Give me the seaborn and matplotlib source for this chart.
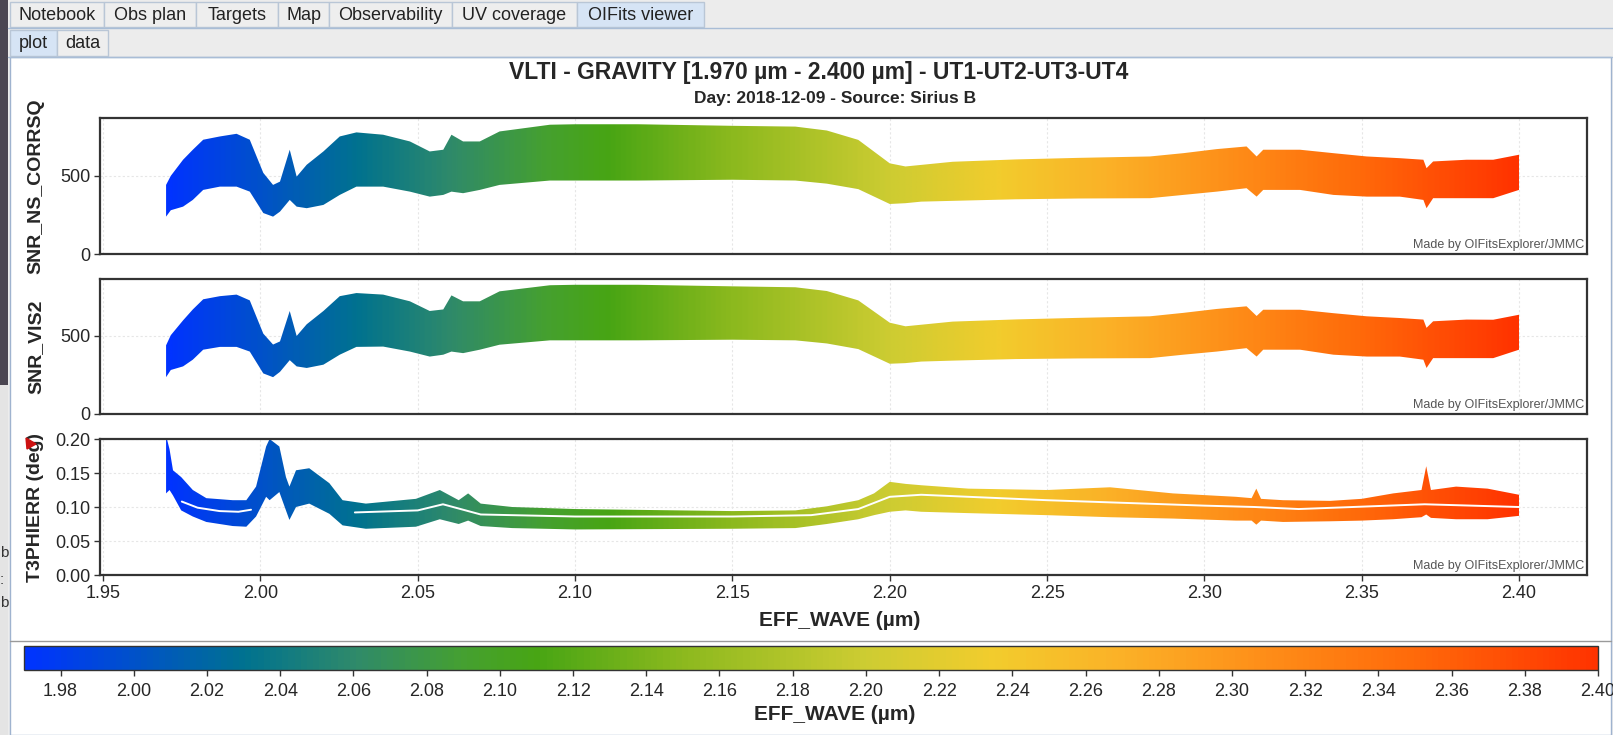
import numpy as np
import pandas as pd
import matplotlib.pyplot as plt
import seaborn as sns
from matplotlib.colors import LinearSegmentedColormap, Normalize
from matplotlib.patches import Rectangle, Polygon
from matplotlib.lines import Line2D
from matplotlib.cm import ScalarMappable

W, H = 1613, 735

# --- values ---
snr_wave = [1.970, 1.9715, 1.9754, 1.9785, 1.9818, 1.9871, 1.9924, 1.9966, 2.0009, 2.0040,
            2.0062, 2.0093, 2.0115, 2.0147, 2.0200, 2.0252, 2.0305, 2.0390, 2.0475, 2.0538,
            2.0581, 2.0607, 2.0644, 2.0697, 2.0760, 2.0920, 2.1000, 2.1200, 2.1500, 2.1700,
            2.1800, 2.1900, 2.2000, 2.2050, 2.2100, 2.2200, 2.2400, 2.2600, 2.2827, 2.2933,
            2.3039, 2.3134, 2.3166, 2.3187, 2.3304, 2.3410, 2.3516, 2.3621, 2.3696, 2.3706,
            2.3727, 2.3833, 2.3918, 2.4000]
corrsq_hi = [442, 500, 603, 667, 731, 752, 769, 731, 519, 442,
             463, 667, 495, 571, 656, 752, 778, 763, 720, 656,
             667, 763, 720, 720, 784, 827, 830, 830, 820, 815,
             790, 730, 580, 560, 570, 590, 605, 615, 624, 645,
             671, 688, 624, 667, 667, 645, 624, 613, 603, 549,
             592, 603, 603, 635]
corrsq_lo = [239, 280, 303, 346, 410, 431, 431, 399, 262, 239,
             271, 346, 303, 293, 314, 378, 431, 431, 399, 367,
             378, 399, 389, 410, 442, 470, 470, 470, 475, 470,
             450, 415, 320, 325, 335, 340, 350, 355, 357, 378,
             399, 421, 367, 410, 410, 378, 367, 367, 346, 293,
             357, 357, 357, 410]
vis2_hi = [440, 505, 600, 670, 735, 755, 765, 728, 515, 445,
           465, 660, 500, 575, 660, 755, 775, 765, 722, 660,
           670, 760, 722, 722, 786, 825, 828, 828, 818, 812,
           788, 728, 585, 562, 572, 592, 606, 616, 626, 648,
           673, 690, 628, 668, 668, 646, 626, 615, 605, 552,
           594, 605, 604, 636]
vis2_lo = [236, 282, 305, 348, 412, 430, 430, 400, 260, 236,
           270, 345, 305, 295, 316, 380, 430, 432, 400, 368,
           380, 400, 390, 412, 444, 472, 472, 472, 476, 472,
           452, 416, 322, 326, 336, 342, 352, 356, 358, 380,
           400, 422, 368, 412, 412, 380, 368, 368, 348, 295,
           358, 358, 358, 412]

t3_wave = [1.970, 1.9711, 1.9722, 1.9748, 1.9785, 1.9828, 1.9912, 1.9955, 1.9986, 2.0018,
           2.0029, 2.0060, 2.0081, 2.0092, 2.0113, 2.0155, 2.0219, 2.0261, 2.0335, 2.0494,
           2.0570, 2.0630, 2.0660, 2.0700, 2.0800, 2.1000, 2.1500, 2.1700, 2.1800, 2.1900,
           2.1950, 2.2000, 2.2050, 2.2100, 2.2250, 2.2500, 2.2700, 2.2900, 2.3100, 2.3150,
           2.3165, 2.3180, 2.3250, 2.3400, 2.3500, 2.3600, 2.3690, 2.3705, 2.3720, 2.3800,
           2.3900, 2.4000]
t3_hi = [0.205, 0.185, 0.154, 0.144, 0.125, 0.113, 0.110, 0.110, 0.130, 0.189,
         0.200, 0.189, 0.144, 0.130, 0.154, 0.157, 0.135, 0.110, 0.105, 0.112,
         0.125, 0.110, 0.120, 0.105, 0.100, 0.097, 0.094, 0.095, 0.101, 0.110,
         0.120, 0.137, 0.134, 0.132, 0.127, 0.125, 0.129, 0.120, 0.115, 0.113,
         0.127, 0.112, 0.110, 0.109, 0.112, 0.120, 0.125, 0.160, 0.125, 0.130,
         0.127, 0.118]
t3_lo = [0.120, 0.125, 0.117, 0.095, 0.086, 0.078, 0.072, 0.071, 0.086, 0.115,
         0.110, 0.122, 0.095, 0.081, 0.100, 0.105, 0.090, 0.073, 0.068, 0.071,
         0.082, 0.075, 0.080, 0.072, 0.069, 0.067, 0.068, 0.069, 0.075, 0.082,
         0.088, 0.093, 0.095, 0.093, 0.091, 0.088, 0.085, 0.083, 0.080, 0.080,
         0.074, 0.080, 0.078, 0.079, 0.080, 0.082, 0.085, 0.089, 0.084, 0.082,
         0.082, 0.087]
# white gaps inside the T3PHIERR band
gap1_wave = [1.975, 1.980, 1.987, 1.993, 1.997]
gap1_val = [0.108, 0.099, 0.094, 0.093, 0.096]
gap2_wave = [2.030, 2.050, 2.058, 2.070, 2.100, 2.150, 2.175, 2.190, 2.200, 2.210,
             2.250, 2.300, 2.316, 2.330, 2.370, 2.400]
gap2_val = [0.092, 0.095, 0.104, 0.089, 0.086, 0.086, 0.088, 0.097, 0.115, 0.118,
            0.110, 0.102, 0.100, 0.097, 0.104, 0.100]

cmap_waves = [1.970, 2.000, 2.030, 2.060, 2.090, 2.110, 2.150, 2.200, 2.235, 2.270, 2.310, 2.350, 2.400]
cmap_colors = ['#0033ff', '#0052c8', '#00728f', '#2f8a6a', '#45a030', '#48a514', '#8cb91e',
               '#cdcc32', '#f2cc2d', '#fbb127', '#fe8d18', '#ff6a0a', '#ff3300']

x_ticks = [1.95, 2.00, 2.05, 2.10, 2.15, 2.20, 2.25, 2.30, 2.35, 2.40]
cbar_ticks = [1.98, 2.00, 2.02, 2.04, 2.06, 2.08, 2.10, 2.12, 2.14, 2.16, 2.18, 2.20, 2.22,
              2.24, 2.26, 2.28, 2.30, 2.32, 2.34, 2.36, 2.38, 2.40]

tabs = ['Notebook', 'Obs plan', 'Targets', 'Map', 'Observability', 'UV coverage', 'OIFits viewer']
tab_edges = [10, 104, 196, 278, 329, 452, 577, 704]
subtabs = ['plot', 'data']
subtab_edges = [10, 57, 108]

title = 'VLTI - GRAVITY [1.970 µm - 2.400 µm] - UT1-UT2-UT3-UT4'
subtitle = 'Day: 2018-12-09 - Source: Sirius B'

sns.set_theme(style='white')
plt.rcParams['font.family'] = ['Liberation Sans', 'DejaVu Sans']

lo_w, hi_w = cmap_waves[0], cmap_waves[-1]
pos = [(w - lo_w) / (hi_w - lo_w) for w in cmap_waves]
cmap = LinearSegmentedColormap.from_list('effwave', list(zip(pos, cmap_colors)))
norm = Normalize(vmin=lo_w, vmax=hi_w)

fig = plt.figure(figsize=(W / 100, H / 100), dpi=100, facecolor='#ececec')


def fx(x):
    return x / W


def fy(y):
    return 1 - y / H


def rect(x0, y0, x1, y1, **kw):
    kw.setdefault('zorder', -10)
    fig.add_artist(Rectangle((fx(x0), fy(y1)), (x1 - x0) / W, (y1 - y0) / H,
                             transform=fig.transFigure, **kw))


def hline(x0, x1, y, **kw):
    fig.add_artist(Line2D([fx(x0), fx(x1)], [fy(y), fy(y)], transform=fig.transFigure, zorder=-5, **kw))


# window chrome
rect(0, 0, 8, 385, facecolor='#4b4652', edgecolor='none')
rect(0, 385, 8, 735, facecolor='#e4e4e4', edgecolor='none')
rect(10, 57, 1611, 735, facecolor='white', edgecolor='#9fb3cf', lw=1)
for i, t in enumerate(tabs):
    sel = t == 'OIFits viewer'
    rect(tab_edges[i], 2, tab_edges[i + 1], 27, facecolor='#d6e4f5' if sel else '#eeeeee',
         edgecolor='#b9c6d6', lw=1)
    fig.text(fx((tab_edges[i] + tab_edges[i + 1]) / 2), fy(15), t, ha='center', va='center',
             fontsize=13, color='#222222')
for i, t in enumerate(subtabs):
    sel = t == 'plot'
    rect(subtab_edges[i], 30, subtab_edges[i + 1], 56, facecolor='#d6e4f5' if sel else '#eeeeee',
         edgecolor='#b9c6d6', lw=1)
    fig.text(fx((subtab_edges[i] + subtab_edges[i + 1]) / 2), fy(43), t, ha='center', va='center',
             fontsize=13, color='#222222')
hline(8, 1613, 27.5, color='#a9bdd6', lw=1)
hline(8, 1613, 57, color='#a9bdd6', lw=1)
hline(10, 1611, 641, color='#9a9a9a', lw=1)
for yy, ch in [(553, 'b'), (580, ':'), (603, 'b')]:
    fig.text(fx(0), fy(yy), ch, ha='left', va='center', fontsize=11, color='#333333')

# titles
fig.text(fx(819), fy(73), title, ha='center', va='center', fontsize=16.5, fontweight='bold')
fig.text(fx(835), fy(99), subtitle, ha='center', va='center', fontsize=12.5, fontweight='bold')

panels = [
    ('SNR_NS_CORRSQ', snr_wave, corrsq_lo, corrsq_hi, (118, 254), 870, [0, 500]),
    ('SNR_VIS2', snr_wave, vis2_lo, vis2_hi, (279, 414), 865, [0, 500]),
    ('T3PHIERR (deg)', t3_wave, t3_lo, t3_hi, (439, 575), 0.20, [0.00, 0.05, 0.10, 0.15, 0.20]),
]

grad = np.linspace(lo_w, hi_w, 800).reshape(1, -1)
axes = []
for name, wave, lo, hi, (top, bot), ymax, yt in panels:
    ax = fig.add_axes([fx(100), fy(bot), (1587 - 100) / W, (bot - top) / H])
    axes.append(ax)
    poly = ax.fill_between(wave, lo, hi, facecolor='none', edgecolor='none')
    im = ax.imshow(grad, cmap=cmap, norm=norm, extent=(lo_w, hi_w, 0, ymax * 1.2), aspect='auto',
                   interpolation='bilinear', origin='lower', zorder=2)
    im.set_clip_path(poly.get_paths()[0], transform=ax.transData)
    ax.set_xlim(1.949, 2.4216)
    ax.set_ylim(0, ymax)
    ax.set_xticks(x_ticks)
    ax.set_yticks(yt)
    ax.grid(True, color='#e6e6e6', lw=0.8, ls=(0, (2, 2)))
    ax.set_axisbelow(True)
    for s in ax.spines.values():
        s.set_color('#333333')
        s.set_linewidth(1.6)
    ax.tick_params(axis='both', direction='out', length=4, width=1, color='#333333',
                   labelsize=13, pad=3, left=True, bottom=True)
    ax.set_ylabel(name, fontsize=14, fontweight='bold')
    ax.yaxis.set_label_coords((44 - 100) / (1587 - 100), 0.5)
    ax.text(0.998, 0.025, 'Made by OIFitsExplorer/JMMC', transform=ax.transAxes, ha='right',
            va='bottom', fontsize=9, color='#555555')

axes[0].tick_params(axis='x', labelbottom=False, length=0)
axes[1].tick_params(axis='x', labelbottom=False, length=0)
axes[2].yaxis.set_major_formatter(plt.FormatStrFormatter('%.2f'))
axes[2].xaxis.set_major_formatter(plt.FormatStrFormatter('%.2f'))

for gw, gv in [(gap1_wave, gap1_val), (gap2_wave, gap2_val)]:
    sns.lineplot(x=gw, y=gv, ax=axes[2], color='white', lw=1.4, zorder=3)

fig.text(fx(840), fy(621), 'EFF_WAVE (µm)', ha='center', va='center', fontsize=15, fontweight='bold')

# little red marker next to the T3PHIERR axis
fig.add_artist(Polygon([[fx(26), fy(438)], [fx(36), fy(444)], [fx(27), fy(449)]],
                       closed=True, transform=fig.transFigure, color='#cc1111', zorder=5))

# colour bar
cax = fig.add_axes([fx(24), fy(670), (1598 - 24) / W, 24 / H])
cb = fig.colorbar(ScalarMappable(norm=norm, cmap=cmap), cax=cax, orientation='horizontal', ticks=cbar_ticks)
cb.ax.xaxis.set_major_formatter(plt.FormatStrFormatter('%.2f'))
cb.ax.tick_params(direction='out', length=4, width=1, color='#333333', labelsize=13, pad=5, bottom=True)
cb.outline.set_edgecolor('#333333')
cb.outline.set_linewidth(1)
fig.text(fx(835), fy(715), 'EFF_WAVE (µm)', ha='center', va='center', fontsize=15, fontweight='bold')

fig.savefig('out.png', dpi=100, facecolor=fig.get_facecolor())
